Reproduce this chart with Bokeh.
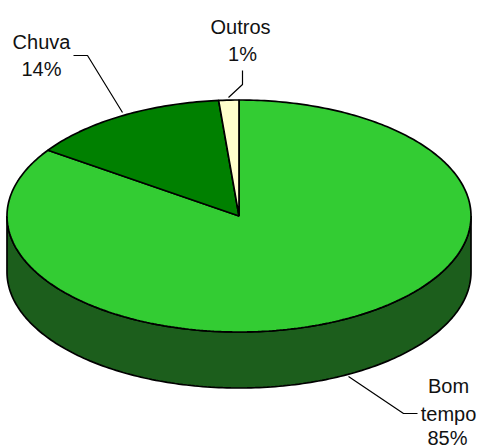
import numpy as np
from bokeh.plotting import figure
from bokeh.core.properties import value
from bokeh.embed import file_html
from bokeh.resources import INLINE

categories = ["Bom tempo", "Chuva", "Outros"]
shares = [84.6, 14.0, 1.4]
percent_labels = ["85%", "14%", "1%"]

TOP_COLORS = ["#33CC33", "#008000", "#FFFFCC"]
SIDE = "#1C5E1C"
CX, CY, RX, RY, DEPTH = 238.5, 215.5, 232, 116, 56

p = figure(width=479, height=448, x_range=(0, 479), y_range=(448, 0),
           output_backend="svg", toolbar_location=None, min_border=0,
           margin=(0, 0, 0, 0), outline_line_color=None,
           background_fill_color="white", border_fill_color="white")
p.axis.visible = False
p.grid.visible = False


def ell(a):
    return CX + RX * np.sin(a), CY - RY * np.cos(a)


# side wall (front half of the ellipse)
a = np.radians(np.linspace(90, 270, 181))
x, y = ell(a)
p.patch(np.r_[x, x[::-1]], np.r_[y, y[::-1] + DEPTH], fill_color=SIDE,
        line_color="black", line_width=1.7)

# top slices, clockwise from 12 o'clock
start = 0.0
total = sum(shares)
for s, c in zip(shares, TOP_COLORS):
    end = start + s / total * 2 * np.pi
    a = np.linspace(start, end, max(int(s * 4), 6))
    x, y = ell(a)
    p.patch(np.r_[CX, x], np.r_[CY, y], fill_color=c,
            line_color="black", line_width=1.7)
    start = end

# leader lines
for lx, ly in [([73, 87, 122], [55, 55, 112]),
               ([242, 242, 228], [70, 84, 97]),
               ([348, 403, 417], [376, 413, 413])]:
    p.line(lx, ly, line_color="black", line_width=1.2)

labels = [(41, 41, "Chuva"), (41, 68, percent_labels[1]),
          (240, 26, "Outros"), (242, 53, percent_labels[2]),
          (448, 385, "Bom"), (448, 413, "tempo"), (447, 437, percent_labels[0])]
p.text([l[0] for l in labels], [l[1] for l in labels], text=[l[2] for l in labels],
       text_font=value("Liberation Sans"), text_font_size="20px", text_color="#111111",
       text_align="center", text_baseline="middle")

open("out.html", "w").write(file_html(p, INLINE))
